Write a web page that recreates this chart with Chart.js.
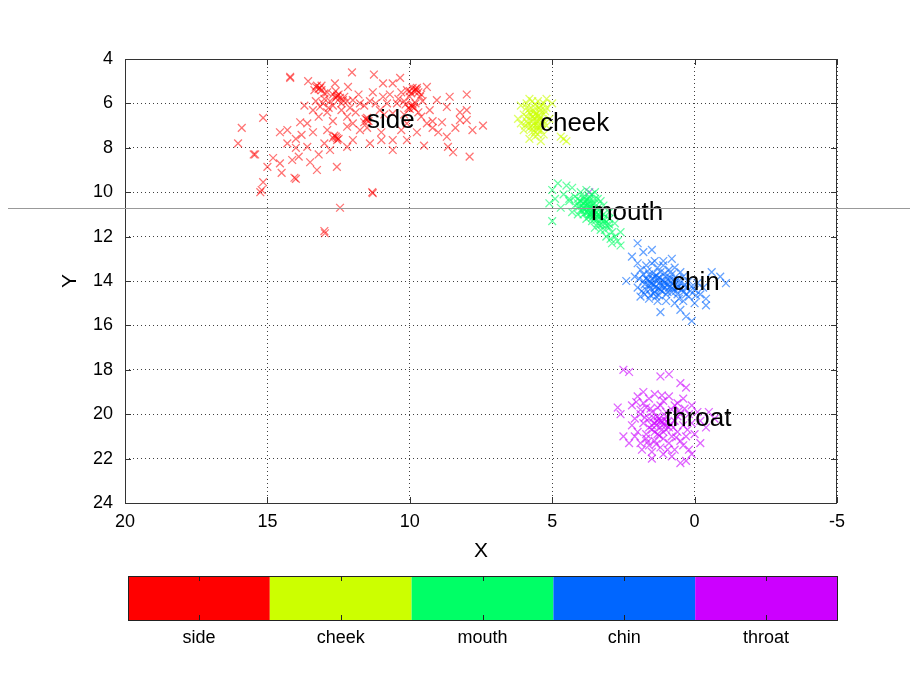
<!DOCTYPE html>
<html>
<head>
<meta charset="utf-8">
<title>Face regions</title>
<script src="https://cdn.jsdelivr.net/npm/chart.js@4/dist/chart.umd.min.js"></script>
<style>
  body { margin: 0; background: #fff; }
  canvas { display: block; }
</style>
</head>
<body>
<canvas id="faceChart" width="910" height="686"></canvas>
<script>
// region names and colours (colorbar order)
const regions = ["side", "cheek", "mouth", "chin", "throat"];
const regionColors = ["#ff0000", "#ccff00", "#00ff66", "#0066ff", "#cc00ff"];
const markerColors = ["rgba(255,0,0,0.55)", "rgba(204,255,0,0.6)", "rgba(0,255,102,0.6)", "rgba(0,102,255,0.6)", "rgba(204,0,255,0.6)"];

// where each region's name is written (x, y)
const labelPos = [[11.5, 6.8], [5.43, 6.9], [3.64, 10.95], [0.79, 14.1], [1.04, 20.2]];

// axis ticks
const xTicks = [20, 15, 10, 5, 0, -5];
const yTicks = [4, 6, 8, 10, 12, 14, 16, 18, 20, 22, 24];

// points, [x, y]
const sidePts = [
  [14.2,4.8],[14.2,4.85],[13.57,5.0],[13.26,5.2],[13.15,5.3],[13.3,5.25],[13.1,5.4],[12.63,5.1],[12.03,4.6],[11.26,4.7],
  [10.94,5.1],[10.34,4.85],[10.6,5.1],[12.17,5.26],[12.56,5.7],[12.6,5.75],[12.5,5.6],[12.35,5.85],[12.0,5.85],[13.15,6.15],
  [12.9,6.4],[11.3,5.5],[10.94,5.7],[10.8,6.0],[9.75,5.4],[9.8,5.35],[9.7,5.5],[9.9,5.3],[10.0,5.45],[9.4,5.26],
  [9.64,5.7],[9.9,6.16],[9.95,6.1],[10.05,6.2],[9.8,6.0],[9.3,6.3],[9.05,5.85],[8.6,5.7],[8.0,5.6],[8.7,6.16],
  [8.24,6.4],[8.0,6.3],[8.24,6.75],[8.0,6.75],[8.4,7.1],[7.8,7.2],[7.43,7.0],[8.7,7.5],[8.66,7.96],[8.48,8.2],
  [7.9,8.4],[9.2,7.1],[9.75,7.3],[10.1,7.65],[10.6,8.1],[11.0,7.65],[11.5,6.75],[11.45,6.8],[11.55,6.7],[11.75,7.2],
  [11.4,7.8],[12.0,7.65],[12.2,7.96],[12.56,7.56],[12.6,7.5],[12.5,7.6],[12.8,8.1],[12.56,8.86],[13.26,9.0],[13.5,8.65],
  [13.6,7.96],[13.8,7.42],[13.85,6.85],[13.4,7.3],[12.9,7.2],[14.0,9.4],[14.05,9.35],[14.13,8.55],[14.5,9.13],[14.56,8.7],
  [14.8,8.46],[15.0,8.86],[15.15,6.65],[15.9,7.1],[16.03,7.8],[15.43,8.3],[15.48,8.3],[15.15,9.55],[15.2,9.9],[15.25,10.0],
  [11.3,10.04],[11.32,10.0],[12.45,10.7],[12.98,11.85],[13.0,11.75],[14.56,7.3],[14.3,7.8],[14.0,8.0],[13.6,6.9],[11.05,6.3],
  [10.6,6.45],[9.4,6.9],[8.87,6.85],[10.1,6.9],[11.75,6.0],[12.2,7.05],[11.5,7.1],[10.6,7.65],[13.0,5.8],[12.8,5.9],
  [12.7,6.1],[13.3,5.9],[12.4,6.3],[12.2,6.6],[11.9,6.4],[11.6,6.1],[11.2,6.0],[10.4,5.8],[10.2,6.5],[9.6,6.6],
  [9.2,6.8],[9.0,7.3],[10.0,5.7],[10.3,5.5],[12.9,5.5],[13.2,6.6],[12.0,6.9],[11.0,7.3],[10.3,7.2],[9.5,7.9],
  [13.2,8.3],[13.9,8.4],[14.3,7.2],[12.7,6.8],
  [13.2,5.35],[13.1,5.2],[13.35,5.4],[12.55,5.65],[12.45,5.75],[12.7,5.6],[12.3,5.7],[12.2,5.9],[9.85,5.45],[9.75,5.3],
  [9.95,5.55],[10.1,5.4],[9.9,6.05],[10.0,6.25],[9.85,6.2],[10.15,6.05],[12.65,7.45],[12.55,7.65],[12.7,7.55],[11.6,6.85],
  [11.5,6.65],[13.05,6.0],[12.85,6.2],[9.6,5.6],[9.55,5.9],[10.45,6.0],[12.6,5.45],[13.0,5.55],[9.7,6.4],[10.2,5.9],
  [12.4,6.0],[12.1,6.2],[11.8,5.6],[11.4,5.9],[10.7,5.6],[10.9,6.5],[13.4,6.3],[13.7,6.1],[14.0,7.6],[13.0,7.8]
];
const cheekPts = [
  [5.9,6.0],[5.7,5.9],[5.5,5.9],[5.3,6.0],[5.6,6.2],[5.4,6.3],[5.2,6.2],[5.8,6.4],[6.0,6.5],[6.2,6.7],
  [6.1,6.9],[5.9,6.8],[5.7,6.6],[5.5,6.6],[5.3,6.5],[5.6,7.0],[5.4,7.0],[5.8,7.1],[6.0,7.2],[5.7,7.3],
  [5.5,7.2],[5.3,7.4],[5.6,7.5],[5.8,7.6],[5.4,7.7],[5.2,7.0],[5.1,6.7],[5.5,6.8],[5.7,6.8],[5.6,6.5],
  [5.4,6.6],[5.9,6.2],[5.3,6.8],[5.6,7.3],[5.5,7.4],[4.7,7.5],[4.5,7.7],[4.6,7.6],[5.0,6.0],[5.2,5.8],
  [6.1,6.1],[5.8,5.8],[5.4,7.2],[5.7,7.0],[5.5,7.0],
  [5.75,6.5],[5.65,6.7],[5.55,6.45],[5.45,6.75],[5.85,6.9],[5.6,6.85],[5.5,6.55],[5.7,7.15],[5.9,6.6],[5.35,6.9],
  [5.65,6.35],[5.45,6.2],[5.8,6.25],[5.6,6.05],[5.4,6.1],[5.95,7.0],[5.5,7.1],[5.25,6.35]
];
const mouthPts = [
  [5.0,9.9],[4.8,9.6],[4.5,9.7],[4.3,9.8],[5.1,10.5],[4.9,10.3],[4.6,10.1],[5.0,11.3],[4.7,10.7],[4.4,10.4],
  [4.2,10.2],[4.0,10.0],[3.8,9.9],[3.6,10.1],[3.9,10.3],[4.1,10.5],[3.7,10.4],[3.5,10.5],[3.8,10.6],[4.0,10.8],
  [3.6,10.8],[3.4,10.7],[3.9,11.0],[3.7,11.1],[3.5,11.0],[3.3,11.2],[3.6,11.3],[3.4,11.4],[3.2,11.0],[3.1,11.5],
  [3.3,11.7],[3.0,11.6],[2.9,11.8],[2.8,12.0],[3.1,12.0],[2.7,12.2],[2.6,12.4],[2.9,12.3],[3.5,11.6],[3.8,11.2],
  [4.1,11.0],[4.3,10.9],[4.2,10.6],[3.7,10.7],[3.4,10.3],[3.2,10.6],[3.0,10.9],[3.6,10.5],[3.8,10.9],[3.5,11.2],
  [3.3,10.9],[4.0,10.4],[3.9,10.7],[3.6,11.0],[3.4,11.1],[3.2,11.3],[3.7,10.2],[3.3,10.4],[4.4,10.3],[2.8,11.4],
  [2.6,11.8],[3.5,10.0],
  [3.85,10.45],[3.75,10.55],[3.95,10.6],[3.65,10.65],[3.55,10.75],[3.85,10.8],[3.75,10.9],[3.65,10.95],[3.45,10.9],[3.55,11.05],
  [3.9,10.5],[4.05,10.65],[3.7,10.3],[3.8,10.35],[3.6,10.6],[3.5,10.85],[3.4,11.0],[3.3,11.1],[3.6,11.15],[3.2,11.2],
  [3.1,11.35],[3.35,11.5],[3.0,11.45],[3.95,10.85],[3.7,11.0],
  [3.8,10.7],[3.6,10.9],[3.45,11.25],[3.25,11.45],[3.15,11.7],[3.9,10.2],[4.1,10.3],[3.5,10.3],[3.0,11.2],[2.95,12.1]
];
const chinPts = [
  [2.2,12.9],[2.4,14.0],[2.0,13.2],[1.8,12.7],[1.5,12.6],[0.8,13.0],[-0.6,13.6],[-0.9,13.8],[-1.1,14.1],[0.3,15.6],
  [0.1,15.8],[0.5,15.3],[1.2,15.4],[-0.4,15.1],[2.0,12.3],
  [1.9,13.5],[1.7,13.3],[1.5,13.2],[1.3,13.4],[1.1,13.3],[0.9,13.5],[1.6,13.7],[1.4,13.8],[1.2,13.6],[1.0,13.8],
  [0.8,13.7],[0.6,13.9],[1.8,14.0],[1.5,14.1],[1.3,14.0],[1.1,14.2],[0.9,14.0],[0.7,14.2],[0.5,14.1],[0.3,14.3],
  [1.7,14.4],[1.4,14.5],[1.2,14.4],[1.0,14.6],[0.8,14.5],[0.6,14.6],[0.4,14.5],[0.2,14.7],[0.0,14.4],[-0.2,14.6],
  [1.6,14.8],[1.3,14.9],[1.0,14.9],[0.7,15.0],[0.4,14.9],[2.0,14.3],[2.1,13.8],[1.9,14.7],[1.5,13.9],[1.2,14.2],
  [0.9,14.3],[0.6,14.3],[1.4,14.3],[1.1,14.0],[0.8,14.1],[1.6,14.2],[0.4,13.8],[0.2,14.0],[-0.1,14.1],[-0.3,14.3],
  [-0.4,14.8],[0.0,15.0],[1.7,13.9],[1.3,13.9],[0.7,13.4],[1.1,13.1],[1.4,13.1],[0.5,13.6],
  [1.45,13.65],[1.35,13.75],[1.25,13.85],[1.15,13.95],[1.05,14.05],[0.95,14.15],[1.55,14.05],[1.45,14.15],[1.35,14.25],[1.25,14.35],
  [1.15,14.45],[1.05,14.3],[0.85,14.25],[0.75,14.35],[0.65,14.45],[0.55,14.25],[0.45,14.35],[1.65,13.95],[1.75,14.15],[1.55,14.35],
  [1.45,14.55],[1.25,14.65],[0.95,14.5],[0.85,13.85],[1.05,13.65],[0.75,13.95],[0.35,14.15],[0.15,14.45],[-0.05,14.65],[1.85,14.45],
  [1.8,13.7],[1.65,13.55],[1.95,13.9],[1.75,14.6],[1.55,14.65],[1.35,14.7],[0.55,14.8],[0.3,14.6],[0.1,14.25],[0.65,14.0]
];
const throatPts = [
  [2.5,18.0],[2.3,18.1],[1.2,18.3],[0.9,18.2],[0.5,18.6],[0.3,18.8],[2.7,19.7],[2.6,20.0],[-0.5,19.9],[-0.7,20.2],
  [-0.4,20.6],[0.3,22.1],[0.5,22.2],[1.5,22.0],[2.3,21.3],[2.5,21.0],[-0.2,21.3],[0.1,21.8],[3.7,10.0],
  [2.0,19.2],[1.8,19.0],[1.6,19.3],[1.4,19.1],[1.1,19.4],[0.9,19.2],[0.6,19.5],[0.4,19.3],[0.1,19.6],[2.2,19.6],
  [1.9,19.8],[1.7,19.7],[1.5,19.9],[1.3,19.7],[1.0,19.9],[0.8,19.8],[0.5,20.0],[0.2,20.0],[-0.1,19.9],[2.1,20.2],
  [1.8,20.4],[1.6,20.2],[1.4,20.4],[1.2,20.3],[1.0,20.5],[0.7,20.3],[0.4,20.5],[0.1,20.4],[-0.2,20.3],[2.0,20.8],
  [1.7,20.9],[1.5,20.7],[1.3,20.9],[1.1,20.8],[0.8,21.0],[0.6,20.8],[0.3,21.0],[0.0,20.9],[1.9,21.3],[1.6,21.4],
  [1.4,21.2],[1.2,21.5],[0.9,21.3],[0.7,21.6],[0.4,21.4],[0.2,21.6],[1.1,21.8],[0.8,21.9],[1.3,20.1],[1.0,20.1],
  [1.2,19.6],[0.6,20.1],[1.5,20.5],[0.9,20.6],[1.7,21.1],[0.5,21.2],[2.2,20.5],[1.8,19.5],[1.1,21.1],[0.7,19.6],
  [1.25,20.2],[1.15,20.35],[1.05,20.25],[1.35,20.5],[1.2,20.6],[1.1,20.45],[0.95,20.35],[1.3,20.3],[1.45,20.15],[0.85,20.45],
  [1.6,20.6],[1.4,20.8],[1.0,20.7],[1.25,20.95],[0.75,20.6],[1.55,19.75],[0.55,19.85],[1.65,21.25],[1.35,21.35],[0.65,21.05],
  [1.9,20.0],[2.05,19.45],[1.75,20.15],[0.35,19.75],[0.25,20.7],[1.85,21.6],[1.5,21.7],[0.95,21.6],[2.1,21.0],[1.15,19.15]
];
const allPts = [sidePts, cheekPts, mouthPts, chinPts, throatPts];

const FONT = "'Liberation Sans', Arial, sans-serif";

// box, inner tick marks, region names, axis titles, colorbar
const decorPlugin = {
  id: "decor",
  afterDatasetsDraw(chart) {
    const ctx = chart.ctx;
    const a = chart.chartArea;
    const xs = chart.scales.x, ys = chart.scales.y;
    ctx.save();
    ctx.fillStyle = "#000";
    ctx.font = "26px " + FONT;
    ctx.textAlign = "left";
    ctx.textBaseline = "middle";
    regions.forEach((r, i) => {
      ctx.fillText(r, xs.getPixelForValue(labelPos[i][0]), ys.getPixelForValue(labelPos[i][1]));
    });

    ctx.strokeStyle = "#333";
    ctx.lineWidth = 1;
    ctx.strokeRect(a.left + 0.5, a.top + 0.5, a.right - a.left - 1, a.bottom - a.top);
    ctx.beginPath();
    xTicks.forEach(v => {
      const px = Math.round(xs.getPixelForValue(v)) + 0.5;
      ctx.moveTo(px, a.bottom); ctx.lineTo(px, a.bottom - 6);
      ctx.moveTo(px, a.top); ctx.lineTo(px, a.top + 6);
    });
    yTicks.forEach(v => {
      const py = Math.round(ys.getPixelForValue(v)) + 0.5;
      ctx.moveTo(a.left, py); ctx.lineTo(a.left + 6, py);
      ctx.moveTo(a.right, py); ctx.lineTo(a.right - 6, py);
    });
    ctx.stroke();

    // axis titles
    ctx.font = "21px " + FONT;
    ctx.textAlign = "center";
    ctx.textBaseline = "middle";
    ctx.fillText("X", (a.left + a.right) / 2, 551);
    ctx.save();
    ctx.translate(70, (a.top + a.bottom) / 2);
    ctx.rotate(-Math.PI / 2);
    ctx.fillText("Y", 0, 0);
    ctx.restore();

    // colorbar
    const cbL = 128, cbR = 837, cbT = 576, cbB = 620;
    const w = (cbR - cbL) / regions.length;
    regions.forEach((r, i) => {
      ctx.fillStyle = regionColors[i];
      ctx.fillRect(cbL + i * w, cbT, w, cbB - cbT);
    });
    ctx.strokeStyle = "#222";
    ctx.strokeRect(cbL + 0.5, cbT + 0.5, cbR - cbL, cbB - cbT);
    ctx.beginPath();
    regions.forEach((r, i) => {
      const cx = Math.round(cbL + (i + 0.5) * w) + 0.5;
      ctx.moveTo(cx, cbT); ctx.lineTo(cx, cbT + 5);
      ctx.moveTo(cx, cbB); ctx.lineTo(cx, cbB - 5);
    });
    ctx.stroke();
    ctx.fillStyle = "#000";
    ctx.font = "18px " + FONT;
    regions.forEach((r, i) => {
      ctx.fillText(r, cbL + (i + 0.5) * w, 638);
    });

    // thin grey rule across the figure
    ctx.strokeStyle = "#999";
    ctx.beginPath();
    ctx.moveTo(8, 208.5); ctx.lineTo(910, 208.5);
    ctx.stroke();
    ctx.restore();
  }
};

const ctx = document.getElementById("faceChart").getContext("2d");
new Chart(ctx, {
  type: "scatter",
  data: {
    datasets: allPts.map((pts, i) => ({
      label: regions[i],
      data: pts.map(p => ({ x: p[0], y: p[1] })),
      pointStyle: "crossRot",
      radius: 5.5,
      hoverRadius: 5.5,
      borderWidth: 1.3,
      borderColor: markerColors[i],
      backgroundColor: markerColors[i]
    }))
  },
  options: {
    responsive: false,
    animation: false,
    events: [],
    layout: { padding: { left: 0, top: 59, right: 73, bottom: 0 } },
    plugins: { legend: { display: false }, tooltip: { enabled: false } },
    scales: {
      x: {
        type: "linear", min: -5, max: 20, reverse: true,
        afterBuildTicks: s => { s.ticks = xTicks.map(v => ({ value: v })); },
        afterFit: s => { s.height = 183; },
        grid: { color: "rgba(0,0,0,0.75)", lineWidth: 1, drawTicks: false },
        border: { display: false, dash: [1, 3] },
        ticks: { color: "#000", padding: 8, font: { family: FONT, size: 18 }, maxRotation: 0 }
      },
      y: {
        type: "linear", min: 4, max: 24, reverse: true,
        afterBuildTicks: s => { s.ticks = yTicks.map(v => ({ value: v })); },
        afterFit: s => { s.width = 125; },
        grid: { color: "rgba(0,0,0,0.75)", lineWidth: 1, drawTicks: false },
        border: { display: false, dash: [1, 3] },
        ticks: { color: "#000", padding: 12, font: { family: FONT, size: 18 } }
      }
    }
  },
  plugins: [decorPlugin]
});
</script>
</body>
</html>
